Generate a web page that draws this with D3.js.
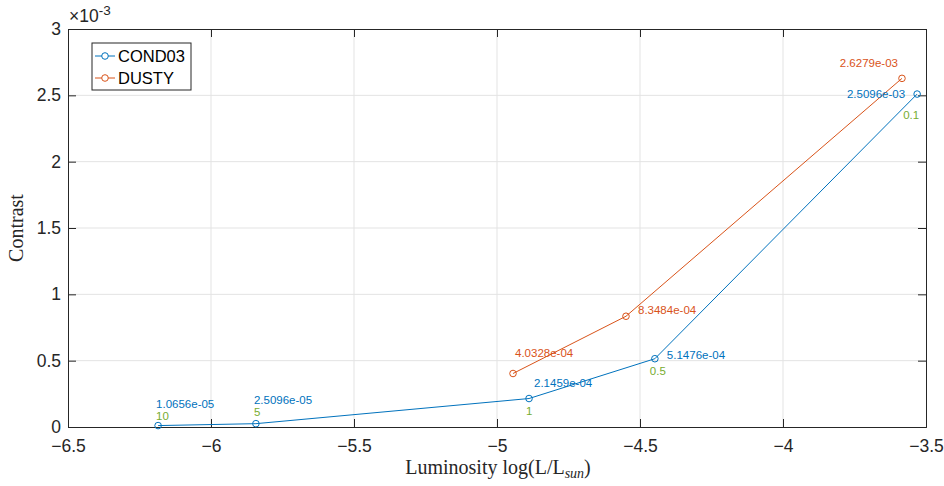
<!DOCTYPE html>
<html>
<head>
<meta charset="utf-8">
<script src="https://cdn.jsdelivr.net/npm/d3@7"></script>
<style>
  html, body { margin: 0; padding: 0; background: #fff; }
  svg { display: block; }
</style>
</head>
<body>
<svg id="chart" width="944" height="486"></svg>
<script>
// Luminosity (log L/Lsun) and contrast per model, with the mass label of each point
const condLum = [-6.185, -5.843, -4.888, -4.448, -3.531];
const condContrast = [1.0656e-5, 2.5096e-5, 2.1459e-4, 5.1476e-4, 2.5096e-3];
const condMass = ["10", "5", "1", "0.5", "0.1"];
const dustyLum = [-4.944, -4.549, -3.584];
const dustyContrast = [4.0328e-4, 8.3484e-4, 2.6279e-3];
const xTicks = [-6.5, -6, -5.5, -5, -4.5, -4, -3.5];
const yTicks = [0, 0.5, 1, 1.5, 2, 2.5, 3];
const seriesNames = ["COND03", "DUSTY"];

const blue = "#0072BD", orange = "#D95319", green = "#77AC30";
const axisColor = "#262626";
const tickFont = "'Liberation Sans', Arial, Helvetica, sans-serif";
const serifFont = "'Liberation Serif', 'Times New Roman', serif";

const svg = d3.select("#chart");
const m = { left: 68, right: 926, top: 29, bottom: 427 };

const x = d3.scaleLinear().domain([-6.5, -3.5]).range([m.left, m.right]);
const y = d3.scaleLinear().domain([0, 3e-3]).range([m.bottom, m.top]);

// grid
const grid = svg.append("g");
grid.selectAll("line.gx").data(xTicks.slice(1, -1)).enter().append("line")
  .attr("x1", d => x(d)).attr("x2", d => x(d))
  .attr("y1", m.top).attr("y2", m.bottom)
  .attr("stroke", "#e3e3e3").attr("stroke-width", 1);
grid.selectAll("line.gy").data(yTicks.slice(1, -1)).enter().append("line")
  .attr("x1", m.left).attr("x2", m.right)
  .attr("y1", d => y(d * 1e-3)).attr("y2", d => y(d * 1e-3))
  .attr("stroke", "#e3e3e3").attr("stroke-width", 1);

// axes with inward ticks on all four sides
const xAxis = d3.axisBottom(x).tickValues(xTicks).tickSize(-8).tickPadding(13)
  .tickFormat(d => d3.format("")(d));
const gx = svg.append("g").attr("transform", `translate(0,${m.bottom})`).call(xAxis);
const xTop = d3.axisTop(x).tickValues(xTicks).tickSize(-8).tickFormat("");
const gxt = svg.append("g").attr("transform", `translate(0,${m.top})`).call(xTop);

const yAxis = d3.axisLeft(y).tickValues(yTicks.map(v => v * 1e-3)).tickSize(-8).tickPadding(7)
  .tickFormat(d => d3.format("")(+(d * 1e3).toFixed(1)));
const gy = svg.append("g").attr("transform", `translate(${m.left},0)`).call(yAxis);
const yRight = d3.axisRight(y).tickValues(yTicks.map(v => v * 1e-3)).tickSize(-8).tickFormat("");
const gyr = svg.append("g").attr("transform", `translate(${m.right},0)`).call(yRight);

[gx, gxt, gy, gyr].forEach(g => {
  g.select(".domain").attr("stroke", axisColor).attr("stroke-width", 1);
  g.selectAll(".tick line").attr("stroke", axisColor).attr("stroke-width", 1);
  g.selectAll(".tick text").attr("fill", axisColor)
    .style("font-family", tickFont).style("font-size", "17.5px");
});
gx.selectAll(".tick text").attr("dy", "0.71em");

// exponent marker
const ex = svg.append("text").attr("x", m.left + 1).attr("y", 22)
  .attr("fill", axisColor).style("font-family", tickFont).style("font-size", "17.5px");
ex.append("tspan").text("\u00d710");
ex.append("tspan").attr("dy", -7).style("font-size", "13.5px").text("-3");

// axis labels
svg.append("text").attr("x", (m.left + m.right) / 2 + 1).attr("y", 474)
  .attr("text-anchor", "middle").attr("fill", axisColor)
  .style("font-family", serifFont).style("font-size", "20px")
  .call(t => {
    t.append("tspan").text("Luminosity log(L/L");
    t.append("tspan").attr("dy", 4).style("font-size", "14px").style("font-style", "italic").text("sun");
    t.append("tspan").attr("dy", -4).text(")");
  });
svg.append("text").attr("transform", `translate(23,${(m.top + m.bottom) / 2}) rotate(-90)`)
  .attr("text-anchor", "middle").attr("fill", axisColor)
  .style("font-family", serifFont).style("font-size", "20px").text("Contrast");

// series
const line = d3.line().x(d => x(d[0])).y(d => y(d[1]));
const cond = d3.zip(condLum, condContrast);
const dusty = d3.zip(dustyLum, dustyContrast);

function drawSeries(data, color) {
  svg.append("path").datum(data).attr("d", line)
    .attr("fill", "none").attr("stroke", color).attr("stroke-width", 1);
  svg.append("g").selectAll("circle").data(data).enter().append("circle")
    .attr("cx", d => x(d[0])).attr("cy", d => y(d[1])).attr("r", 3.3)
    .attr("fill", "none").attr("stroke", color).attr("stroke-width", 1);
}
drawSeries(dusty, orange);
drawSeries(cond, blue);

// value labels
const fmt = v => v.toExponential(4).replace(/e([+-])(\d)$/, "e$10$2");
const labelStyle = sel => sel.style("font-family", tickFont).style("font-size", "11.5px");

const condOffsets = [
  { dx: -2, dy: -18, anchor: "start" },
  { dx: -2, dy: -20, anchor: "start" },
  { dx: 5, dy: -12, anchor: "start" },
  { dx: 12, dy: 0, anchor: "start" },
  { dx: -12, dy: 4, anchor: "end" }
];
const condMassOffsets = [
  { dx: -2, dy: -6, anchor: "start" },
  { dx: -2, dy: -8, anchor: "start" },
  { dx: -3, dy: 16, anchor: "start" },
  { dx: -5, dy: 16, anchor: "start" },
  { dx: -14, dy: 25, anchor: "start" }
];
const dustyOffsets = [
  { dx: 2, dy: -16, anchor: "start" },
  { dx: 12, dy: -2, anchor: "start" },
  { dx: -4, dy: -11, anchor: "end" }
];

svg.append("g").selectAll("text").data(cond).enter().append("text")
  .attr("x", (d, i) => x(d[0]) + condOffsets[i].dx)
  .attr("y", (d, i) => y(d[1]) + condOffsets[i].dy)
  .attr("text-anchor", (d, i) => condOffsets[i].anchor)
  .attr("fill", blue).call(labelStyle).text(d => fmt(d[1]));
svg.append("g").selectAll("text").data(cond).enter().append("text")
  .attr("x", (d, i) => x(d[0]) + condMassOffsets[i].dx)
  .attr("y", (d, i) => y(d[1]) + condMassOffsets[i].dy)
  .attr("text-anchor", (d, i) => condMassOffsets[i].anchor)
  .attr("fill", green).call(labelStyle).text((d, i) => condMass[i]);
svg.append("g").selectAll("text").data(dusty).enter().append("text")
  .attr("x", (d, i) => x(d[0]) + dustyOffsets[i].dx)
  .attr("y", (d, i) => y(d[1]) + dustyOffsets[i].dy)
  .attr("text-anchor", (d, i) => dustyOffsets[i].anchor)
  .attr("fill", orange).call(labelStyle).text(d => fmt(d[1]));

// legend
const lg = svg.append("g").attr("transform", "translate(92,43)");
lg.append("rect").attr("width", 99).attr("height", 47)
  .attr("fill", "#fff").attr("stroke", axisColor).attr("stroke-width", 1);
[blue, orange].forEach((c, i) => {
  const yy = 13 + i * 22;
  lg.append("line").attr("x1", 3).attr("x2", 23).attr("y1", yy).attr("y2", yy)
    .attr("stroke", c).attr("stroke-width", 1);
  lg.append("circle").attr("cx", 13).attr("cy", yy).attr("r", 3.3)
    .attr("fill", "#fff").attr("stroke", c).attr("stroke-width", 1);
  lg.append("text").attr("x", 26).attr("y", yy).attr("dy", "0.35em")
    .attr("fill", "#000").style("font-family", tickFont).style("font-size", "16.5px")
    .text(seriesNames[i]);
});
</script>
</body>
</html>
